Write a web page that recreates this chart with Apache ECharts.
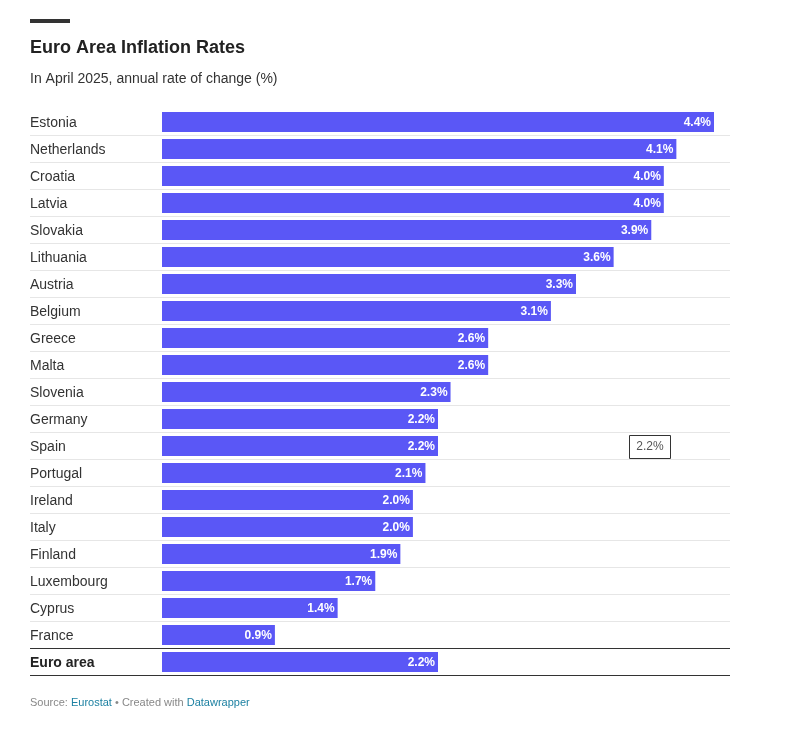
<!DOCTYPE html>
<html>
<head>
<meta charset="utf-8">
<script src="https://cdn.jsdelivr.net/npm/echarts@6/dist/echarts.min.js"></script>
<style>
  html, body { margin: 0; padding: 0; background: #fff; }
  #chart { width: 798px; height: 733px; }
</style>
</head>
<body>
<div id="chart"></div>
<script>
'use strict'

const countries = [
  'Estonia', 'Netherlands', 'Croatia', 'Latvia', 'Slovakia', 'Lithuania',
  'Austria', 'Belgium', 'Greece', 'Malta', 'Slovenia', 'Germany', 'Spain',
  'Portugal', 'Ireland', 'Italy', 'Finland', 'Luxembourg', 'Cyprus', 'France',
  'Euro area'
]
const rates = [
  4.4, 4.1, 4.0, 4.0, 3.9, 3.6,
  3.3, 3.1, 2.6, 2.6, 2.3, 2.2, 2.2,
  2.1, 2.0, 2.0, 1.9, 1.7, 1.4, 0.9,
  2.2
]
const hoverLabel = '2.2%'

const FONT = '"Liberation Sans", Arial, sans-serif'
const BAR_COLOR = '#5a57f6'

// x scale: 0 sits at px 162, 4.4 at px 714 (grid spans 30..730)
const pxPerUnit = (714 - 162) / 4.4
const xMin = -(162 - 30) / pxPerUnit
const xMax = (730 - 162) / pxPerUnit

// separator colours, top to bottom (first boundary hidden, euro area rows dark)
const sepColors = countries.map((c, i) => i === 0 ? 'rgba(0,0,0,0)' : '#e6e6e6')
sepColors[countries.length - 1] = '#333333'
sepColors.push('#333333')

const chart = echarts.init(document.getElementById('chart'))

const option = {
  animation: false,
  textStyle: { fontFamily: FONT },
  title: [{
    text: 'Euro Area Inflation Rates',
    left: 30,
    top: 39,
    padding: 0,
    textStyle: { fontFamily: FONT, fontSize: 18, fontWeight: 'bold', color: '#222' }
  }, {
    text: 'In April 2025, annual rate of change (%)',
    left: 30,
    top: 72,
    padding: 0,
    textStyle: { fontFamily: FONT, fontSize: 14, fontWeight: 'normal', color: '#333' }
  }, {
    text: '{g|Source: }{b|Eurostat}{g| • Created with }{b|Datawrapper}',
    left: 30,
    top: 697,
    padding: 0,
    textStyle: {
      fontFamily: FONT,
      fontSize: 11,
      fontWeight: 'normal',
      rich: {
        g: { color: '#888', fontFamily: FONT, fontSize: 11, fontWeight: 'normal' },
        b: { color: '#1d81a2', fontFamily: FONT, fontSize: 11, fontWeight: 'normal' }
      }
    }
  }],
  graphic: [{
    type: 'rect',
    left: 30,
    top: 19,
    shape: { width: 40, height: 4 },
    style: { fill: '#333' }
  }, {
    type: 'group',
    left: 629,
    top: 435,
    children: [{
      type: 'rect',
      shape: { x: 0, y: 0, width: 41, height: 23 },
      style: { fill: '#fff', stroke: '#333', lineWidth: 1 }
    }, {
      type: 'text',
      x: 20.5,
      y: 11.5,
      style: {
        text: hoverLabel,
        fill: '#555',
        font: '12px ' + FONT,
        align: 'center',
        verticalAlign: 'middle'
      }
    }]
  }],
  grid: {
    left: 30,
    right: 798 - 730,
    top: 108.5,
    height: 27 * countries.length,
    containLabel: false
  },
  xAxis: {
    type: 'value',
    min: xMin,
    max: xMax,
    show: false
  },
  yAxis: {
    type: 'category',
    data: countries,
    inverse: true,
    axisLine: { show: false },
    axisTick: { show: false },
    splitLine: {
      show: true,
      lineStyle: { color: sepColors, width: 1 }
    },
    axisLabel: {
      inside: true,
      margin: 0,
      align: 'left',
      padding: [2, 0, 0, 0],
      fontFamily: FONT,
      fontSize: 14,
      color: '#333',
      formatter: (v) => v === 'Euro area' ? '{b|' + v + '}' : v,
      rich: {
        b: { fontFamily: FONT, fontSize: 14, fontWeight: 'bold', color: '#222' }
      }
    }
  },
  series: [{
    type: 'bar',
    data: rates,
    barWidth: 20,
    itemStyle: { color: BAR_COLOR },
    label: {
      show: true,
      position: 'insideRight',
      distance: 3,
      offset: [0, 1],
      color: '#fff',
      fontFamily: FONT,
      fontSize: 12,
      fontWeight: 'bold',
      formatter: ({ value }) => value.toFixed(1) + '%'
    }
  }]
}

chart.setOption(option)
</script>
</body>
</html>
